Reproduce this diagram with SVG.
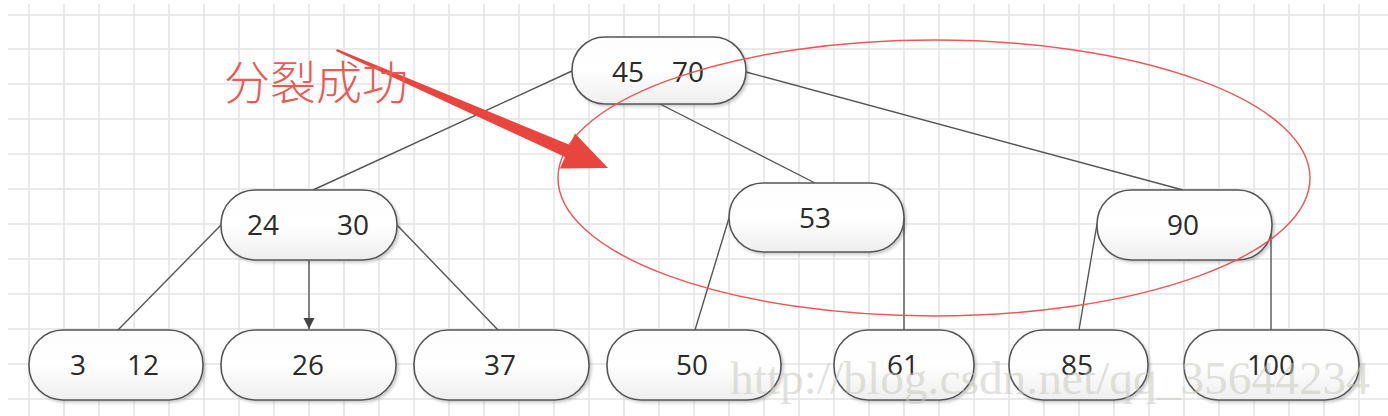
<svg xmlns="http://www.w3.org/2000/svg" width="1388" height="416" viewBox="0 0 1388 416">
<defs>
<linearGradient id="nodeFill" x1="0" y1="0" x2="0" y2="1">
<stop offset="0" stop-color="#fdfdfd"/>
<stop offset="0.5" stop-color="#ffffff"/>
<stop offset="1" stop-color="#eeeeee"/>
</linearGradient>
<filter id="shadow" x="-10%" y="-10%" width="125%" height="140%">
<feGaussianBlur in="SourceAlpha" stdDeviation="1.5"/>
<feOffset dx="1.5" dy="2" result="o"/>
<feComponentTransfer><feFuncA type="linear" slope="0.2"/></feComponentTransfer>
<feMerge><feMergeNode/><feMergeNode in="SourceGraphic"/></feMerge>
</filter>
<marker id="arrow" viewBox="0 0 10 10" refX="10" refY="5" markerWidth="8" markerHeight="8" markerUnits="strokeWidth" orient="auto">
<path d="M0,0 L10,5 L0,10 z" fill="#444"/>
</marker>
</defs>
<style>
.grid line{stroke:#e3e3e3;stroke-width:1.5}
.node rect{fill:url(#nodeFill);stroke:#555;stroke-width:1.6;filter:url(#shadow)}
.node text{font-family:"Open Sans","Liberation Sans",sans-serif;font-size:28px;fill:#2a2a2a;text-anchor:middle}
.edges line{stroke:#555;stroke-width:1.4}
</style>
<rect width="1388" height="416" fill="#ffffff"/>
<g class="grid" id="grid">
<line x1="8" y1="15" x2="1388" y2="15"/><line x1="8" y1="49" x2="1388" y2="49"/><line x1="8" y1="84" x2="1388" y2="84"/><line x1="8" y1="119" x2="1388" y2="119"/><line x1="8" y1="154" x2="1388" y2="154"/><line x1="8" y1="189" x2="1388" y2="189"/><line x1="8" y1="224" x2="1388" y2="224"/><line x1="8" y1="259" x2="1388" y2="259"/><line x1="8" y1="294" x2="1388" y2="294"/><line x1="8" y1="329" x2="1388" y2="329"/><line x1="8" y1="364" x2="1388" y2="364"/><line x1="8" y1="399" x2="1388" y2="399"/>
<line x1="29" y1="4" x2="29" y2="416"/><line x1="64" y1="4" x2="64" y2="416"/><line x1="99" y1="4" x2="99" y2="416"/><line x1="134" y1="4" x2="134" y2="416"/><line x1="169" y1="4" x2="169" y2="416"/><line x1="204" y1="4" x2="204" y2="416"/><line x1="239" y1="4" x2="239" y2="416"/><line x1="274" y1="4" x2="274" y2="416"/><line x1="309" y1="4" x2="309" y2="416"/><line x1="344" y1="4" x2="344" y2="416"/><line x1="379" y1="4" x2="379" y2="416"/><line x1="414" y1="4" x2="414" y2="416"/><line x1="449" y1="4" x2="449" y2="416"/><line x1="484" y1="4" x2="484" y2="416"/><line x1="519" y1="4" x2="519" y2="416"/><line x1="554" y1="4" x2="554" y2="416"/><line x1="589" y1="4" x2="589" y2="416"/><line x1="624" y1="4" x2="624" y2="416"/><line x1="659" y1="4" x2="659" y2="416"/><line x1="694" y1="4" x2="694" y2="416"/><line x1="729" y1="4" x2="729" y2="416"/><line x1="764" y1="4" x2="764" y2="416"/><line x1="799" y1="4" x2="799" y2="416"/><line x1="834" y1="4" x2="834" y2="416"/><line x1="869" y1="4" x2="869" y2="416"/><line x1="904" y1="4" x2="904" y2="416"/><line x1="939" y1="4" x2="939" y2="416"/><line x1="974" y1="4" x2="974" y2="416"/><line x1="1009" y1="4" x2="1009" y2="416"/><line x1="1044" y1="4" x2="1044" y2="416"/><line x1="1079" y1="4" x2="1079" y2="416"/><line x1="1114" y1="4" x2="1114" y2="416"/><line x1="1149" y1="4" x2="1149" y2="416"/><line x1="1184" y1="4" x2="1184" y2="416"/><line x1="1219" y1="4" x2="1219" y2="416"/><line x1="1254" y1="4" x2="1254" y2="416"/><line x1="1289" y1="4" x2="1289" y2="416"/><line x1="1324" y1="4" x2="1324" y2="416"/><line x1="1359" y1="4" x2="1359" y2="416"/>
</g>
<g class="edges" id="connectors">
<line x1="572" y1="71" x2="313" y2="190"/>
<line x1="660" y1="104" x2="815" y2="183"/>
<line x1="746" y1="72" x2="1183" y2="190"/>
<line x1="221" y1="225" x2="118" y2="330"/>
<line x1="309" y1="261" x2="309" y2="329" marker-end="url(#arrow)"/>
<line x1="397" y1="225" x2="498" y2="330"/>
<line x1="729" y1="218" x2="695" y2="330"/>
<line x1="904" y1="218" x2="904" y2="330"/>
<line x1="1097" y1="224" x2="1079" y2="330"/>
<line x1="1271" y1="225" x2="1271" y2="330"/>
</g>
<g class="node" id="n45_70"><rect x="572" y="37" width="174" height="67" rx="33" ry="33"/><text x="628" y="82">45</text><text x="688" y="82">70</text></g>
<g class="node" id="n24_30"><rect x="221" y="190" width="176" height="70" rx="34" ry="34"/><text x="263" y="235">24</text><text x="353" y="235">30</text></g>
<g class="node" id="n53"><rect x="729" y="183" width="175" height="69" rx="34" ry="34"/><text x="815" y="228">53</text></g>
<g class="node" id="n90"><rect x="1097" y="190" width="175" height="70" rx="34" ry="34"/><text x="1183" y="235">90</text></g>
<g class="node" id="n3_12"><rect x="29" y="330" width="174" height="70" rx="34" ry="34"/><text x="78" y="375">3</text><text x="143" y="375">12</text></g>
<g class="node" id="n26"><rect x="221" y="330" width="175" height="70" rx="34" ry="34"/><text x="308" y="375">26</text></g>
<g class="node" id="n37"><rect x="414" y="330" width="175" height="70" rx="34" ry="34"/><text x="500" y="375">37</text></g>
<g class="node" id="n50"><rect x="607" y="330" width="174" height="70" rx="34" ry="34"/><text x="692" y="375">50</text></g>
<g class="node" id="n61"><rect x="834" y="330" width="140" height="70" rx="34" ry="34"/><text x="903" y="375">61</text></g>
<g class="node" id="n85"><rect x="1009" y="330" width="139" height="70" rx="34" ry="34"/><text x="1077" y="375">85</text></g>
<g class="node" id="n100"><rect x="1184" y="330" width="175" height="70" rx="34" ry="34"/><text x="1271" y="375">100</text></g>
<g id="highlight">
<ellipse cx="934" cy="178" rx="376" ry="138" fill="none" stroke="#e85a5a" stroke-width="1.5"/>
<polygon points="337,49 570,145 575,133.6 608,168 559.9,168.4 565,157 336,51" fill="#e8453f"/>
<text x="224" y="99" font-family="Noto Sans CJK SC, sans-serif" font-weight="300" font-size="46" fill="#ea5a55">分裂成功</text>
</g>
<text x="730" y="394" font-family="Liberation Serif, serif" font-size="46" fill="#c8c8c0" fill-opacity="0.55" textLength="640" lengthAdjust="spacingAndGlyphs">http://blog.csdn.net/qq_35644234</text>
</svg>
